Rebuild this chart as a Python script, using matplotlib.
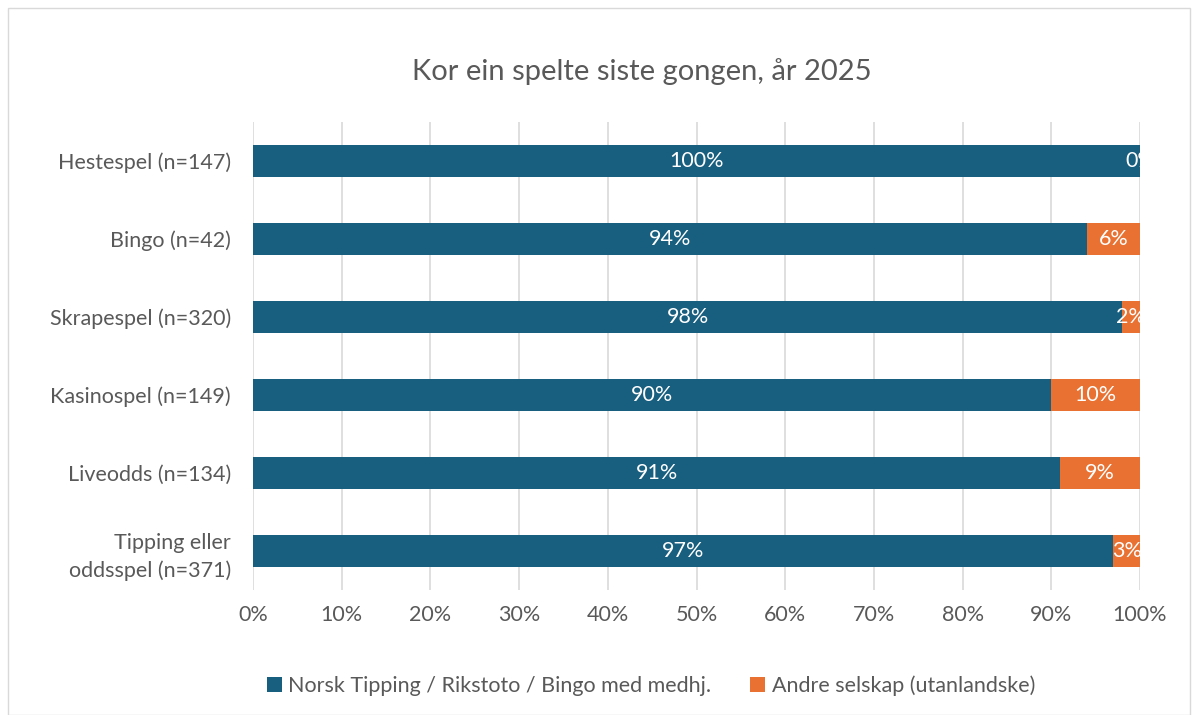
import matplotlib.pyplot as plt
import numpy as np
from matplotlib.patches import Rectangle

plt.rcParams["font.family"] = ["Lato", "DejaVu Sans"]

categories = [
    "Hestespel (n=147)",
    "Bingo (n=42)",
    "Skrapespel (n=320)",
    "Kasinospel (n=149)",
    "Liveodds (n=134)",
    "Tipping eller\noddsspel (n=371)",
]
norsk = [100, 94, 98, 90, 91, 97]
andre = [0, 6, 2, 10, 9, 3]
series_names = ["Norsk Tipping / Rikstoto / Bingo med medhj.", "Andre selskap (utanlandske)"]

blue = "#175E7F"
orange = "#E97132"
text_col = "#595959"
fs = 15.5

fig = plt.figure(figsize=(11.95, 7.15), dpi=100)
ax = fig.add_axes([253 / 1195, 1 - 590 / 715, (1140 - 253) / 1195, (590 - 122) / 715])

y = np.arange(len(categories))
b1 = ax.barh(y, norsk, height=0.41, color=blue, label=series_names[0], zorder=3)
b2 = ax.barh(y, andre, left=norsk, height=0.41, color=orange, label=series_names[1], zorder=3)

for i in range(len(categories)):
    ax.text(norsk[i] / 2, y[i], f"{norsk[i]}%", ha="center", va="center",
            color="white", fontsize=fs, zorder=4, clip_on=True)
    ax.text(norsk[i] + andre[i] / 2, y[i], f"{andre[i]}%", ha="center", va="center",
            color="white", fontsize=fs, zorder=4, clip_on=True)

ax.set_xlim(0, 100)
ax.set_ylim(len(categories) - 0.5, -0.5)
ax.set_xticks(np.arange(0, 101, 10))
ax.set_xticklabels([f"{v}%" for v in range(0, 101, 10)])
ax.set_yticks(y)
ax.set_yticklabels(categories, linespacing=1.45)
ax.tick_params(axis="both", length=0, labelsize=fs, labelcolor=text_col)
ax.tick_params(axis="y", pad=16)
ax.tick_params(axis="x", pad=11)
ax.grid(axis="x", color="#d9d9d9", linewidth=1.2, zorder=0)
for s in ax.spines.values():
    s.set_visible(False)

fig.text(642 / 1195, 1 - 72 / 715, "Kor ein spelte siste gongen, år 2025",
         ha="center", va="center", fontsize=21, color=text_col)

fig.legend(handles=[b1, b2], loc="center", bbox_to_anchor=(651 / 1195, 1 - 686 / 715),
           ncol=2, frameon=False, fontsize=fs, labelcolor=text_col,
           handlelength=0.7, handleheight=0.7, columnspacing=1.8, handletextpad=0.3)

fig.patches.append(Rectangle((8 / 1195, 0), (1190 - 8) / 1195, 1 - 8 / 715,
                             transform=fig.transFigure, fill=False,
                             edgecolor="#d9d9d9", linewidth=1))

fig.savefig("out.png", dpi=100)
